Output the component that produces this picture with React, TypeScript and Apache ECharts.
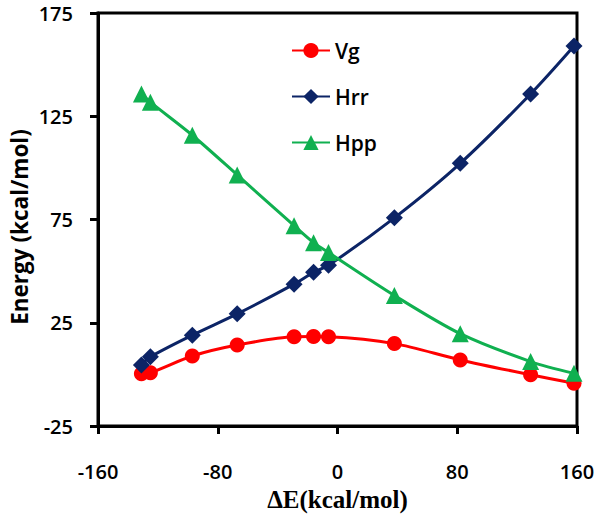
import React, { useEffect, useRef } from "react";
import * as echarts from "echarts";

const xValues = [-131, -125, -97, -67, -29, -16, -6, 38, 82, 129, 158];
const vgValues = [0.3, 0.8, 8.9, 14.2, 18.2, 18.3, 18.2, 14.9, 7.0, -0.2, -4.3];
const hrrValues = [4.6, 8.5, 19.0, 29.3, 43.7, 49.4, 52.8, 75.8, 102.2, 135.8, 159.0];
const hppValues = [135.8, 131.8, 115.8, 96.6, 72.0, 63.8, 59.0, 38.2, 19.7, 6.2, 0.5];
const yTicks = [-25, 25, 75, 125, 175];
const seriesNames = ["Vg", "Hrr", "Hpp"];
const yTitle = "Energy (kcal/mol)";
const xTitle = "ΔE(kcal/mol)";

const pairs = (ys: number[]) => xValues.map((x, i) => [x, ys[i]]);

export default function App() {
  const ref = useRef<HTMLDivElement>(null);
  useEffect(() => {
    if (!ref.current) return;
    const chart = echarts.init(ref.current, null, { renderer: "svg" });
    const labelFont = { fontFamily: "Open Sans", fontSize: 20, color: "#000", fontWeight: 600 };
    const mk = (name: string, data: number[], color: string, symbol: string, size: number) => ({
      name,
      type: "line",
      data: pairs(data),
      smooth: 0.3,
      symbol,
      symbolSize: size,
      showAllSymbol: true,
      lineStyle: { color, width: 3 },
      itemStyle: { color },
      z: 2,
    });
    chart.setOption({
      animation: false,
      backgroundColor: "#fff",
      grid: {
        left: 98,
        right: 25,
        top: 13,
        bottom: 87,
        show: true,
        borderColor: "#000",
        borderWidth: 3,
        backgroundColor: "transparent",
      },
      legend: {
        orient: "vertical",
        left: 286,
        top: 35,
        itemWidth: 38,
        itemHeight: 19,
        itemGap: 25,
        data: seriesNames,
        textStyle: { fontFamily: "Open Sans", fontSize: 21, fontWeight: 600, color: "#000" },
      },
      graphic: [
        {
          type: "text",
          x: 19,
          y: 227,
          rotation: Math.PI / 2,
          style: {
            text: yTitle,
            align: "center",
            verticalAlign: "middle",
            fontFamily: "Open Sans",
            fontSize: 22.5,
            fontWeight: "bold",
            fill: "#000",
          },
        },
      ],
      xAxis: {
        type: "value",
        min: -160,
        max: 160,
        interval: 80,
        name: xTitle,
        nameLocation: "middle",
        nameGap: 61,
        nameTextStyle: { fontFamily: "Liberation Serif", fontSize: 25, fontWeight: "bold", color: "#000" },
        axisLine: { show: true, onZero: false, lineStyle: { color: "#000", width: 3 } },
        axisTick: { show: true, inside: false, length: 8, lineStyle: { color: "#000", width: 3 } },
        axisLabel: { ...labelFont, margin: 35 },
        splitLine: { show: false },
      },
      yAxis: {
        type: "value",
        min: -25,
        max: 175,
        axisLine: { show: true, onZero: false, lineStyle: { color: "#000", width: 3 } },
        axisTick: { show: true, inside: false, length: 8, customValues: yTicks, lineStyle: { color: "#000", width: 3 } },
        axisLabel: { ...labelFont, margin: 25, customValues: yTicks },
        splitLine: { show: false },
      },
      series: [
        mk("Vg", vgValues, "#FF0000", "circle", 15),
        mk("Hrr", hrrValues, "#0C2466", "diamond", 17),
        mk("Hpp", hppValues, "#10B050", "triangle", 17),
      ],
    });
    return () => chart.dispose();
  }, []);
  return <div ref={ref} style={{ width: 602, height: 517, position: "absolute", left: 0, top: 0 }} />;
}
